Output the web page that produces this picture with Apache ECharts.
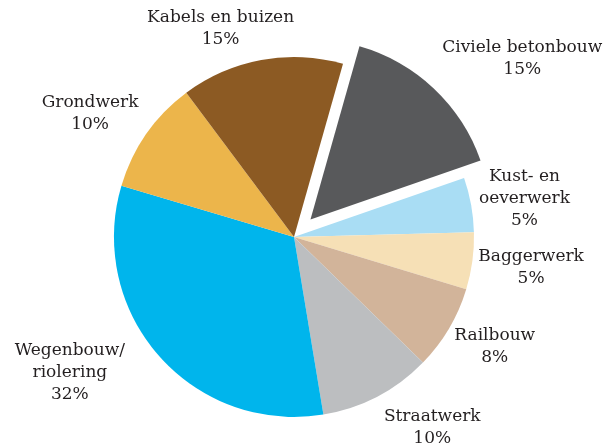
<!DOCTYPE html>
<html>
<head>
<meta charset="utf-8">
<script src="https://cdn.jsdelivr.net/npm/echarts@6/dist/echarts.min.js"></script>
<style>
  html, body { margin: 0; padding: 0; background: #fff; }
  #pieChart { width: 605px; height: 447px; }
</style>
</head>
<body>
<div id="pieChart"></div>
<script>
// aandeel per werksoort (%), met de klok mee vanaf Civiele betonbouw
// (afgelezen uit de taartpunten; labels tonen afgeronde percentages)
var categories = ['Civiele betonbouw', 'Kust- en\noeverwerk', 'Baggerwerk', 'Railbouw',
                  'Straatwerk', 'Wegenbouw/\nriolering', 'Grondwerk', 'Kabels en buizen'];
var values = [15.3, 4.9, 5.1, 7.6, 10.1, 32.2, 10.2, 14.6];
var colors = ['#58595b', '#a9ddf4', '#f6e0b6', '#d2b49a', '#bcbec0', '#00b5ec', '#ecb54b', '#8c5a23'];
var explodedIndex = 0;

// layout
var cx = 294, cy = 237, R = 180, startAngle = 74.2, offset = 24;
// kleine handmatige verschuiving van de labels (px), zoals in het origineel
var labelNudge = { 0: [0, -7], 1: [-4, -1], 2: [-6, 2], 3: [-5, 2], 4: [1, 3],
                   5: [-25, -5], 6: [2, -2], 7: [15, 0] };
var total = values.reduce(function (a, b) { return a + b; }, 0);

function midAngle(i) {
    var before = 0;
    for (var k = 0; k < i; k++) before += values[k];
    return (startAngle - (before + values[i] / 2) / total * 360) * Math.PI / 180;
}

// uitgetrokken punt: zelfde taart, middelpunt verschoven langs de middenhoek
var ea = midAngle(explodedIndex);
var ex = offset * Math.cos(ea), ey = -offset * Math.sin(ea);

function makeSeries(dx, dy, onlyExploded) {
    return {
        type: 'pie',
        silent: true,
        center: [cx + dx, cy + dy],
        radius: [0, R],
        startAngle: startAngle,
        clockwise: true,
        percentPrecision: 0,
        itemStyle: { borderWidth: 0 },
        label: {
            show: true,
            position: 'outside',
            formatter: '{b}\n{d}%',
            fontFamily: 'DejaVu Serif',
            fontSize: 17,
            lineHeight: 22,
            color: '#231f20',
            align: 'center',
            overflow: 'none'
        },
        labelLine: { show: false },
        labelLayout: function (params) {
            var i = params.dataIndex;
            var a = midAngle(i);
            var c = Math.cos(a), s = Math.sin(a);
            var extra = i === explodedIndex ? offset : 0;
            var w = params.labelRect.width;
            var shift = Math.max(-1, Math.min(1, c * 4)) * w / 2;
            var n = labelNudge[i] || [0, 0];
            return {
                x: cx + (192 + extra) * c + shift + n[0],
                y: cy - (212 + extra) * s + n[1],
                align: 'center',
                verticalAlign: 'middle'
            };
        },
        data: categories.map(function (name, i) {
            var visible = (i === explodedIndex) === onlyExploded;
            return {
                name: name,
                value: values[i],
                itemStyle: { color: visible ? colors[i] : 'rgba(0,0,0,0)' },
                label: { show: visible }
            };
        })
    };
}

var myChart = echarts.init(document.getElementById('pieChart'));
var option = {
    animation: false,
    series: [
        makeSeries(0, 0, false),
        makeSeries(ex, ey, true)
    ]
};
myChart.setOption(option);
</script>
</body>
</html>
